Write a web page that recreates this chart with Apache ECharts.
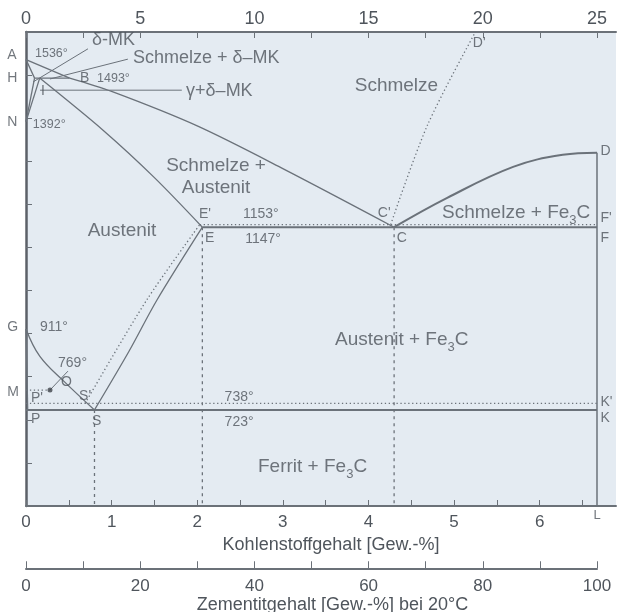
<!DOCTYPE html>
<html><head><meta charset="utf-8">
<script src="https://cdn.jsdelivr.net/npm/echarts@6/dist/echarts.min.js"></script>
<style>html,body{margin:0;padding:0;background:#fff}#c{width:620px;height:612px}</style>
</head><body><div id="c"></div>
<script>
// ---- axis ticks / labels ----
const carbonTicks = [0,0.5,1,1.5,2,2.5,3,3.5,4,4.5,5,5.5,6,6.5];
const carbonLabels = [0,1,2,3,4,5,6];
const atomTicks = [0,2.5,5,7.5,10,12.5,15,17.5,20,22.5,25];
const atomLabels = [0,5,10,15,20,25];
const cementiteTicks = [0,10,20,30,40,50,60,70,80,90,100];
const cementiteLabels = [0,20,40,60,80,100];
const tempTicks = [500,600,700,800,900,1000,1100,1200,1300,1400,1500,1600];

// ---- phase boundary lines [C wt-%, T °C] ----
const liquidusAB = [[0,1536],[0.51,1493]];
const liquidusBC = [[0.51,1493],[1.0,1462],[2.0,1382],[3.0,1283],[4.3,1147]];
const solidusAH = [[0,1536],[0.10,1493]];
const peritecticHB = [[0.10,1493],[0.51,1493]];
const lineNH = [[0,1392],[0.10,1493]];
const lineNI = [[0,1392],[0.16,1493]];
const solidusIE = [[0.16,1493],[0.9,1372],[1.5,1262],[2.06,1147]];
const lineES = [[0.8,723],[1.2,858],[1.53,978],[2.06,1147]];
const lineES_stable = [[0.69,738],[1.41,978],[2.03,1153]];
const lineGOS = [[0,911],[0.16,848],[0.45,788],[0.8,723]];
const lineGP = [[0,911],[0.02,723]];
const eutectoidPSK = [[0,723],[6.67,723]];
const eutectoidStable = [[0,738],[6.67,738]];
const eutecticECF = [[2.06,1147],[6.67,1147]];
const eutecticStable = [[2.03,1153],[6.67,1153]];
const liquidusCD = [[4.3,1147],[4.92,1215],[5.69,1287],[6.27,1315],[6.67,1320]];
const lineDL = [[6.67,1320],[6.67,500]];
const liquidusStable = [[4.26,1153],[4.69,1384],[5.25,1600]];
const dropS = [[0.8,723],[0.8,500]];
const dropE = [[2.06,1147],[2.06,500]];
const dropC = [[4.3,1147],[4.3,500]];
const curieM = [[0,769],[0.28,769]];
const curieDot = [[0.28,769]];
const leader769 = [[0.28,769],[0.49,813]];
const leaderDelta = [[0.724,1561],[0.082,1484]];
const leaderMeltDelta = [[1.19,1537],[0.28,1491]];
const leaderGammaDelta = [[0.164,1465],[1.82,1465]];
const pointL = [[6.67,500]];

// ---- annotations [text, C, T] ----
const regionLabels = [
  ['Schmelze',3.84,1475],
  ['Austenit',0.72,1138],
  ['Schmelze + Fe{s|3}C',4.86,1180],
  ['Austenit + Fe{s|3}C',3.61,885],
  ['Ferrit + Fe{s|3}C',2.71,590]
];
const regionLabelsCentered = [['Schmelze +\nAustenit',2.22,1264]];
const deltaLabels = [
  ['δ-MK',0.77,1581],
  ['Schmelze + δ–MK',1.25,1540],
  ['γ+δ–MK',1.87,1464]
];
const pointLabels = [
  ['A',-0.22,1547],['H',-0.22,1493],['N',-0.22,1391],['G',-0.22,915],['M',-0.22,765],
  ['B',0.63,1493],['I',0.175,1463],
  ["E'",2.02,1178],['E',2.09,1122],["C'",4.11,1180],['C',4.33,1122],
  ["F'",6.71,1168],['F',6.71,1122],['D',6.71,1324],["D'",5.22,1574],
  ["K'",6.71,741],['K',6.71,704],
  ['O',0.41,788],["P'",0.058,751],["S'",0.62,755],['P',0.058,702],['S',0.77,697],
  ['1153°',2.535,1178],['1147°',2.56,1120],['738°',2.32,753],['723°',2.32,695],
  ['911°',0.164,915],['769°',0.374,832]
];
const smallTempLabels = [['1536°',0.105,1551],['1493°',0.83,1491],['1392°',0.08,1386]];

const LINE = '#6b727a', TXT = '#4f555c', FONT = "'Liberation Sans', Arial, sans-serif";

function ln(data, opt) {
  opt = opt || {};
  return {
    type: 'line', data: data, symbol: 'none', showSymbol: false, animation: false,
    smooth: opt.smooth || false, z: opt.z || 3, silent: true,
    lineStyle: {color: opt.color || LINE, width: opt.width || 1.3, type: opt.type || 'solid', cap: 'butt'}
  };
}
function labels(items, size, extra) {
  extra = extra || {};
  return {
    type: 'scatter', symbolSize: 0, clip: false, animation: false, silent: true, z: 10,
    data: items.map(d => [d[1], d[2], d[0]]),
    label: Object.assign({
      show: true, position: 'right', distance: 0, formatter: p => p.data[2],
      fontSize: size, color: TXT, fontFamily: FONT,
      rich: {s: {fontSize: Math.round(size*0.7), padding: [14,0,0,0], color: TXT, fontFamily: FONT}}
    }, extra)
  };
}
const DOT = [1.3, 2.6], DASH = [3, 4];

const chart = echarts.init(document.getElementById('c'), null, {renderer: 'canvas'});
chart.setOption({
  animation: false,
  backgroundColor: '#ffffff',
  grid: [
    {left: 26, right: 4, top: 32, bottom: 106, show: true, backgroundColor: '#e4ebf2', borderWidth: 0},
    {left: 26, width: 571, top: 568, height: 1, show: false}
  ],
  xAxis: [
    {type: 'value', gridIndex: 0, position: 'bottom', min: 0, max: 590/85.607,
     axisLine: {show: true, onZero: false, lineStyle: {color: '#6b7178', width: 2}},
     axisTick: {show: true, inside: true, length: 6, customValues: carbonTicks, lineStyle: {color: '#6b7178', width: 1}},
     axisLabel: {customValues: carbonLabels, fontSize: 17, color: TXT, fontFamily: FONT, margin: 8},
     splitLine: {show: false},
     name: 'Kohlenstoffgehalt [Gew.-%]', nameLocation: 'middle', nameGap: 25,
     nameTextStyle: {fontSize: 18, color: TXT, fontFamily: FONT, padding: [0,0,0,20]}},
    {type: 'value', gridIndex: 0, position: 'top', min: 0, max: 25*590/571,
     axisLine: {show: true, onZero: false, lineStyle: {color: '#6b7178', width: 2}},
     axisTick: {show: true, inside: true, length: 6, customValues: atomTicks, lineStyle: {color: '#6b7178', width: 1}},
     axisLabel: {customValues: atomLabels, fontSize: 18, color: TXT, fontFamily: FONT, margin: 4},
     splitLine: {show: false}},
    {type: 'value', gridIndex: 1, position: 'bottom', min: 0, max: 100,
     axisLine: {show: true, onZero: false, lineStyle: {color: '#6b7178', width: 2}},
     axisTick: {show: true, inside: true, length: 7, customValues: cementiteTicks, lineStyle: {color: '#6b7178', width: 1}},
     axisLabel: {customValues: cementiteLabels, fontSize: 17, color: TXT, fontFamily: FONT, margin: 10},
     splitLine: {show: false},
     name: 'Zementitgehalt [Gew.-%] bei 20°C', nameLocation: 'middle', nameGap: 28,
     nameTextStyle: {fontSize: 18, color: TXT, fontFamily: FONT, padding: [0,0,0,42]}}
  ],
  yAxis: [
    {type: 'value', gridIndex: 0, min: 500, max: 1600,
     axisLine: {show: true, onZero: false, lineStyle: {color: '#5c6168', width: 2.5}},
     axisTick: {show: true, inside: true, length: 6, customValues: tempTicks, lineStyle: {color: '#6b7178', width: 1}},
     axisLabel: {show: false}, splitLine: {show: false}},
    {type: 'value', gridIndex: 1, min: 0, max: 1, show: false}
  ],
  series: [
    ln(liquidusAB), ln(liquidusBC, {smooth: 0.3}), ln(solidusAH), ln(peritecticHB),
    ln(lineNH), ln(lineNI), ln(solidusIE, {smooth: 0.3}),
    ln(lineES, {smooth: 0.3}), ln(lineES_stable, {smooth: 0.3, type: DOT}),
    ln(lineGOS, {smooth: 0.4}), ln(lineGP),
    ln(eutectoidPSK, {width: 2}), ln(eutectoidStable, {type: DOT, width: 1.3}),
    ln(eutecticECF, {width: 2}), ln(eutecticStable, {type: DOT, width: 1.3}),
    ln(liquidusCD, {smooth: 0.4, width: 2}), ln(lineDL, {width: 1.5}),
    ln(liquidusStable, {smooth: 0.3, type: DOT}),
    ln(dropS, {type: DASH}), ln(dropE, {type: DASH}), ln(dropC, {type: DASH}),
    ln(curieM, {type: DOT}), ln(leader769, {width: 1}),
    ln(leaderDelta, {width: 1}), ln(leaderMeltDelta, {width: 1}), ln(leaderGammaDelta, {width: 1}),
    {type: 'scatter', data: curieDot, symbol: 'circle', symbolSize: 5, itemStyle: {color: '#3f444a'}, z: 5, silent: true, animation: false},
    labels(regionLabels, 19),
    labels(regionLabelsCentered, 19, {position: 'inside', align: 'center', lineHeight: 22}),
    labels(deltaLabels, 18),
    labels(pointLabels, 14),
    labels(smallTempLabels, 12.5),
    {type: 'scatter', data: pointL, symbolSize: 0, clip: false, silent: true, animation: false,
     label: {show: true, position: 'bottom', distance: 3, formatter: 'L', fontSize: 13, color: TXT, fontFamily: FONT}}
  ]
});
</script></body></html>
